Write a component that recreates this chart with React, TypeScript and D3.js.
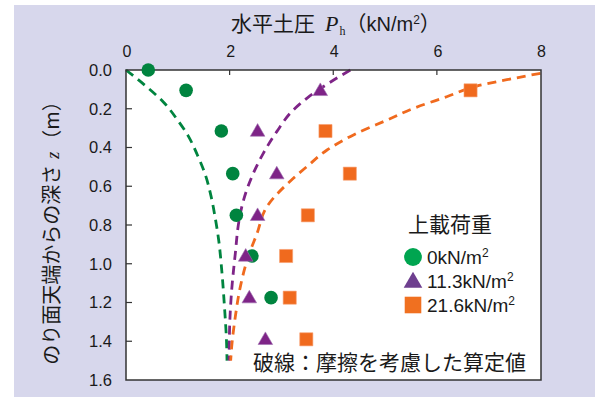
import React from "react";
import * as d3 from "d3";

const W = 595;
const H = 397;

// tick labels
const xTicks = [0, 2, 4, 6, 8];
const yTicks = [0, 0.2, 0.4, 0.6, 0.8, 1.0, 1.2, 1.4, 1.6];

// measured depths (m)
const depths = [0.0, 0.105, 0.315, 0.535, 0.75, 0.96, 1.175, 1.39];

// measured horizontal pressure (kN/m2)
const p0 = [0.43, 1.16, 1.84, 2.06, 2.13, 2.43, 2.8]; // depths[0..6]
const p113 = [3.75, 2.54, 2.91, 2.54, 2.31, 2.38, 2.69]; // depths[1..7]
const p216 = [6.65, 3.85, 4.32, 3.51, 3.09, 3.16, 3.48]; // depths[1..7]

// calculated curves (P, z)
const curve0: [number, number][] = [
  [0, 0], [0.37, 0.08], [0.72, 0.165], [1.0, 0.26], [1.2, 0.34], [1.38, 0.44],
  [1.53, 0.54], [1.64, 0.65], [1.72, 0.76], [1.79, 0.88], [1.85, 1.04],
  [1.9, 1.22], [1.94, 1.4], [1.95, 1.5],
];
const curve113: [number, number][] = [
  [4.33, 0], [3.93, 0.065], [3.49, 0.146], [3.23, 0.206], [2.91, 0.318],
  [2.65, 0.43], [2.43, 0.55], [2.27, 0.67], [2.18, 0.78], [2.11, 0.946],
  [2.04, 1.135], [2.0, 1.325], [1.99, 1.5],
];
const curve216: [number, number][] = [
  [8.0, 0.017], [7.49, 0.043], [6.77, 0.083], [6.19, 0.138], [5.55, 0.198],
  [5.04, 0.258], [4.39, 0.335], [3.88, 0.413], [3.49, 0.499], [3.23, 0.559],
  [2.72, 0.705], [2.53, 0.843], [2.36, 0.963], [2.2, 1.127], [2.11, 1.273],
  [2.04, 1.428], [2.02, 1.5],
];

const legendLabels = ["0kN/m", "11.3kN/m", "21.6kN/m"];

const green = "#00843f";
const purple = "#7e2487";
const orange = "#f06a1e";
const lgGreen = "#00a550";
const lgPurple = "#6e3f8f";
const lgOrange = "#f07020";

const CJK = "'Noto Sans CJK JP', 'Noto Sans', sans-serif";
const SANS = "'Liberation Sans', Arial, sans-serif";
const SERIF = "'Liberation Serif', 'DejaVu Serif', serif";
const INK = "#1a1a1a";

export default function App() {
  const x = d3.scaleLinear().domain([0, 8]).range([126, 540.5]);
  const y = d3.scaleLinear().domain([0, 1.6]).range([70, 380]);

  const line = d3
    .line<[number, number]>()
    .x((d) => x(d[0]))
    .y((d) => y(d[1]))
    .curve(d3.curveMonotoneY);

  const circ = d3.symbol(d3.symbolCircle, 145)();
  const tri = d3.symbol(d3.symbolTriangle, 92)();
  const sq = d3.symbol(d3.symbolSquare, 172)();
  const lgCirc = d3.symbol(d3.symbolCircle, 250)();
  const lgTri = d3.symbol(d3.symbolTriangle, 150)();
  const lgSq = d3.symbol(d3.symbolSquare, 275)();

  const dash = "9,6";

  return (
    <div style={{ position: "fixed", left: 0, top: 0 }}>
      <svg width={W} height={H} style={{ display: "block" }}>
        <rect x={0} y={0} width={W} height={H} fill="#ffffff" />
        <rect x={14} y={5} width={W - 14} height={H - 5} fill="#d7d7ec" />
        <rect x={126} y={70} width={415} height={310} fill="#ffffff" />

        {/* curves */}
        <path d={line(curve0) || ""} fill="none" stroke={green} strokeWidth={2.8} strokeDasharray={dash} />
        <path d={line(curve113) || ""} fill="none" stroke={purple} strokeWidth={2.8} strokeDasharray={dash} />
        <path d={line(curve216) || ""} fill="none" stroke={orange} strokeWidth={2.8} strokeDasharray={dash} />

        {/* frame */}
        <rect x={126} y={70} width={415} height={310} fill="none" stroke="#333" strokeWidth={1.5} />
        {xTicks.map((t) => (
          <g key={"xt" + t}>
            {t > 0 && t < 8 && (
              <line x1={x(t)} x2={x(t)} y1={70} y2={75} stroke="#333" strokeWidth={1.2} />
            )}
            <text x={x(t) + 1} y={57} textAnchor="middle" fontFamily={SANS} fontSize={16} fill={INK}>
              {t}
            </text>
          </g>
        ))}
        {yTicks.map((t) => (
          <g key={"yt" + t}>
            {t > 0 && t < 1.6 && (
              <line x1={126} x2={132} y1={y(t)} y2={y(t)} stroke="#333" strokeWidth={1.2} />
            )}
            <text x={112} y={y(t)} dy="0.35em" textAnchor="end" fontFamily={SANS} fontSize={16.5} fill={INK}>
              {t.toFixed(1)}
            </text>
          </g>
        ))}

        {/* markers */}
        {p0.map((p, i) => (
          <path key={"g" + i} d={circ || ""} transform={`translate(${x(p)},${y(depths[i])})`} fill={green} />
        ))}
        {p113.map((p, i) => (
          <path key={"p" + i} d={tri || ""} transform={`translate(${x(p)},${y(depths[i + 1]) + 1})`} fill={purple} stroke="#a070b0" strokeWidth={0.6} />
        ))}
        {p216.map((p, i) => (
          <path key={"o" + i} d={sq || ""} transform={`translate(${x(p)},${y(depths[i + 1])})`} fill={orange} stroke="#f8a070" strokeWidth={0.6} />
        ))}

        {/* title */}
        <text x={231} y={31} fontFamily={CJK} fontSize={21} fill={INK}>
          水平土圧
          <tspan dx={10} fontFamily={SERIF} fontStyle="italic" fontSize={22}>P</tspan>
          <tspan dx={1} dy={4} fontFamily={SERIF} fontSize={12}>h</tspan>
          <tspan dy={-4} fontFamily={CJK} fontSize={21}>（</tspan>
          <tspan fontFamily={SANS} fontSize={20}>kN/m</tspan>
          <tspan dy={-7} fontFamily={SANS} fontSize={12}>2</tspan>
          <tspan dy={7} fontFamily={CJK} fontSize={21}>）</tspan>
        </text>

        {/* y label */}
        <text transform="translate(59,228) rotate(-90)" textAnchor="middle" fontFamily={CJK} fontSize={20} fill={INK}>
          のり面天端からの深さ
          <tspan dx={6} fontFamily={SERIF} fontStyle="italic" fontSize={18}>z</tspan>
          <tspan dx={2}>（m）</tspan>
        </text>

        {/* legend */}
        <text x={450} y={232} textAnchor="middle" fontFamily={CJK} fontSize={21} fill={INK}>
          上載荷重
        </text>
        {[lgCirc, lgTri, lgSq].map((s, i) => (
          <g key={"lg" + i} transform={`translate(0,${i * 24})`}>
            <path
              d={s || ""}
              transform={`translate(413,${257 + (i === 1 ? 1.5 : 0)})`}
              fill={[lgGreen, lgPurple, lgOrange][i]}
            />
            <text x={427} y={263.5} fontFamily={SANS} fontSize={19} fill={INK}>
              {legendLabels[i]}
              <tspan dy={-7} fontSize={12}>2</tspan>
            </text>
          </g>
        ))}

        {/* note */}
        <text x={253} y={370} fontFamily={CJK} fontSize={21} fill={INK}>
          破線：摩擦を考慮した算定値
        </text>
      </svg>
    </div>
  );
}
